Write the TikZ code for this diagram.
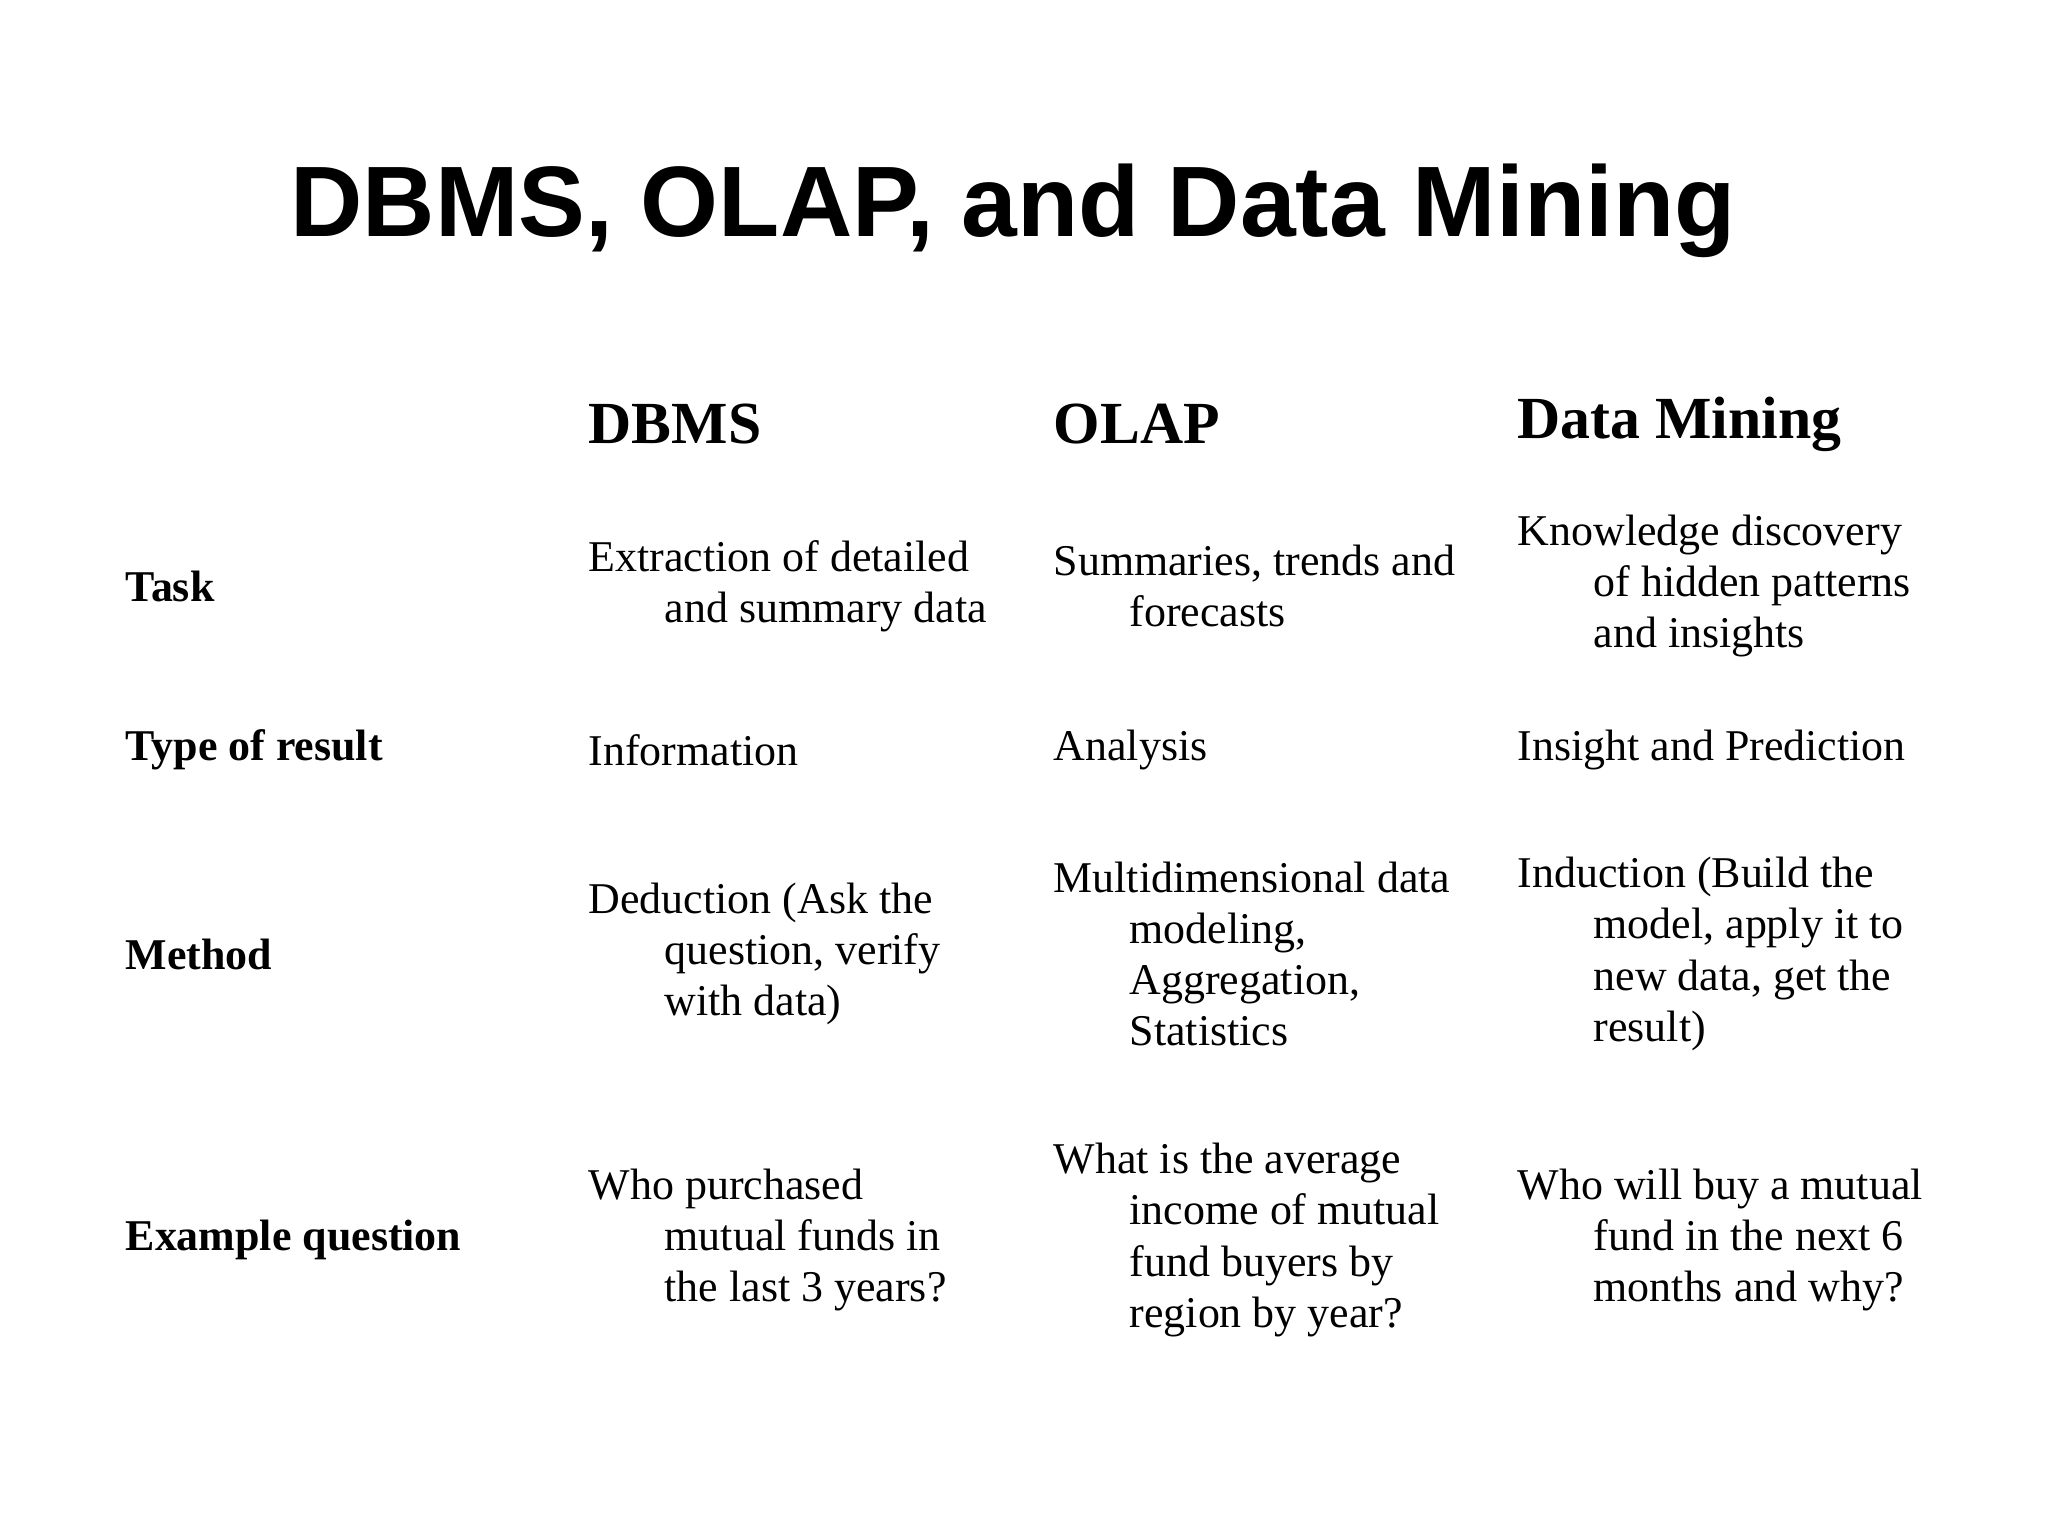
\documentclass[tikz,border=0pt]{standalone}
\usepackage{fontspec}
\setmainfont{Liberation Serif}
\newfontfamily\titlefont{Liberation Sans}
\newcommand{\hi}{\\\hspace*{0.76cm}}
\begin{document}
\begin{tikzpicture}[x=1cm,y=-1cm,
  cell/.style={anchor=west,align=left,inner sep=0pt,font=\fontsize{12.5}{14.6}\selectfont},
  rowlab/.style={cell,font=\fontsize{12.5}{14.6}\selectfont\bfseries},
  colhead/.style={anchor=west,inner sep=0pt,font=\fontsize{17}{20}\selectfont\bfseries}]
\useasboundingbox (0,0) rectangle (20.48,15.36);
\node[inner sep=0pt,font=\titlefont\fontsize{28.5}{34}\selectfont\bfseries] (title) at (10.13,2.11) {DBMS, OLAP, and Data Mining};
\node[colhead] (h1) at (5.88,4.24) {DBMS};
\node[colhead] (h2) at (10.53,4.24) {OLAP};
\node[colhead] (h3) at (15.17,4.24) {Data Mining};
\node[rowlab] (r1) at (1.25,5.86) {Task};
\node[rowlab] (r2) at (1.25,7.50) {Type of result};
\node[rowlab] (r3) at (1.25,9.54) {Method};
\node[rowlab] (r4) at (1.25,12.40) {Example question};
\node[cell] (c11) at (5.88,5.86) {Extraction of detailed\hi and summary data};
\node[cell] (c12) at (10.53,5.86) {Summaries, trends and\hi forecasts};
\node[cell] (c13) at (15.17,5.86) {Knowledge discovery\hi of hidden patterns\hi and insights};
\node[cell] (c21) at (5.88,7.50) {Information};
\node[cell] (c22) at (10.53,7.50) {Analysis};
\node[cell] (c23) at (15.17,7.50) {Insight and Prediction};
\node[cell] (c31) at (5.88,9.54) {Deduction (Ask the\hi question, verify\hi with data)};
\node[cell] (c32) at (10.53,9.54) {Multidimensional data\hi modeling,\hi Aggregation,\hi Statistics};
\node[cell] (c33) at (15.17,9.54) {Induction (Build the\hi model, apply it to\hi new data, get the\hi result)};
\node[cell] (c41) at (5.88,12.40) {Who purchased\hi mutual funds in\hi the last 3 years?};
\node[cell] (c42) at (10.53,12.40) {What is the average\hi income of mutual\hi fund buyers by\hi region by year?};
\node[cell] (c43) at (15.17,12.40) {Who will buy a mutual\hi fund in the next 6\hi months and why?};
\end{tikzpicture}
\end{document}
